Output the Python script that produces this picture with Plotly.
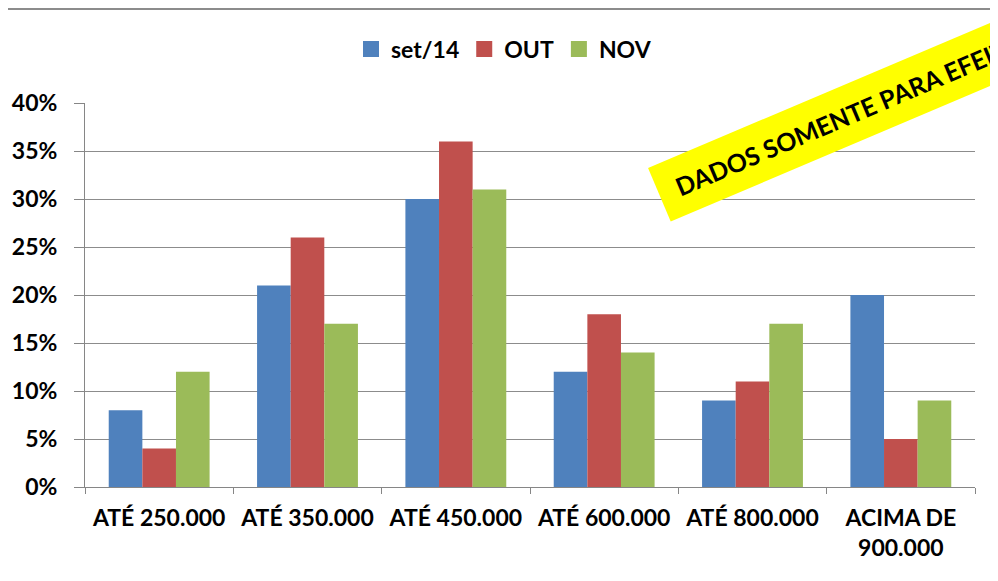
import plotly.graph_objects as go

categories = ["ATÉ 250.000", "ATÉ 350.000", "ATÉ 450.000", "ATÉ 600.000", "ATÉ 800.000", "ACIMA DE<br>900.000"]
series_names = ["set/14", "OUT", "NOV"]
set14 = [0.08, 0.21, 0.30, 0.12, 0.09, 0.20]
out = [0.04, 0.26, 0.36, 0.18, 0.11, 0.05]
nov = [0.12, 0.17, 0.31, 0.14, 0.17, 0.09]
colors = ["#4F81BD", "#C0504D", "#9BBB59"]
banner_text = "&nbsp;&nbsp;&nbsp;DADOS SOMENTE PARA EFEITO ILUSTRATIVO"

# page has an 8px body margin; figure coordinates = page coordinates - 8
W, H = 990, 573
ml, mr, mt, mb = 77, 23, 95, 94
pw, ph = W - ml - mr, H - mt - mb

FONT = "Lato"
FS = 23

fig = go.Figure()
for name, vals, c in zip(series_names, [set14, out, nov], colors):
    fig.add_trace(go.Bar(x=categories, y=vals, name=name, showlegend=False,
                         marker=dict(color=c, line=dict(width=0))))
# legend entries with larger square swatches
for name, c in zip(series_names, colors):
    fig.add_trace(go.Scatter(x=[None], y=[None], mode="markers", name=name,
                             marker=dict(symbol="square", size=16, color=c)))

def px_x(x):
    return (x - ml) / pw

def px_y(y):
    return (H - mb - y) / ph

fig.update_layout(
    width=W, height=H,
    margin=dict(l=ml, r=mr, t=mt, b=mb, autoexpand=False),
    paper_bgcolor="white", plot_bgcolor="white",
    barmode="group", bargap=0.32, bargroupgap=0,
    font=dict(family=FONT, size=FS, color="black"),
    legend=dict(orientation="h", x=px_x(496), xanchor="center", y=px_y(41), yanchor="middle",
                font=dict(family=FONT, size=FS, color="black", weight="bold"),
                itemwidth=30, traceorder="normal"),
    xaxis=dict(showgrid=False, showline=True, linecolor="#868686", linewidth=1, automargin=False,
               ticks="outside", tickson="boundaries", ticklen=6, tickcolor="#868686",
               ticklabelstandoff=10,
               tickfont=dict(family=FONT, size=FS, weight="bold")),
    yaxis=dict(range=[0, 0.40], dtick=0.05, tickformat=".0%", showgrid=True, gridcolor="#8C8C8C",
               gridwidth=1, showline=True, linecolor="#868686", linewidth=1, automargin=False,
               ticks="outside", ticklen=10, tickcolor="#868686",
               ticklabelstandoff=12,
               tickfont=dict(family=FONT, size=FS, weight="bold"), zeroline=False),
    shapes=[dict(type="line", xref="paper", yref="paper", x0=px_x(0), x1=px_x(W), y0=px_y(1), y1=px_y(1),
                 line=dict(color="#8C8C8C", width=2))],
    annotations=[dict(text=banner_text, xref="paper", yref="paper", x=px_x(937), y=px_y(65),
                      xanchor="center", yanchor="middle", showarrow=False, textangle=-23,
                      bgcolor="#FFFF00", borderpad=0, width=620, height=57, align="left",
                      font=dict(family=FONT, size=25, color="black", weight="bold"))],
)

fig.write_html("out.html")
